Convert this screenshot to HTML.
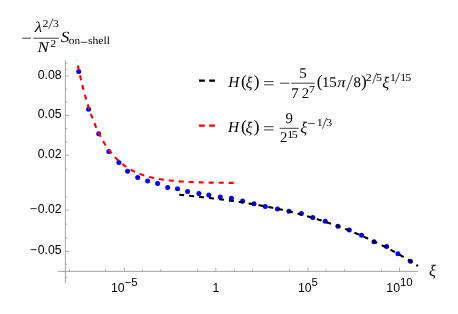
<!DOCTYPE html>
<html><head><meta charset="utf-8"><title>plot</title>
<style>html,body{margin:0;padding:0;background:#fff;}svg{display:block;}</style></head>
<body>
<svg width="458" height="314" viewBox="0 0 458 314">
<defs><mask id="m" maskUnits="userSpaceOnUse" x="0" y="0" width="458" height="314"><rect width="458" height="314" fill="#fff"/></mask></defs>
<rect width="458" height="314" fill="#fff"/>
<g mask="url(#m)">
<g stroke="#8c8c8c" stroke-width="0.8" fill="none">
<path d="M65.35 60.3 V283"/>
<path d="M58 271.35 H418"/>
<path d="M65.35 76.00 h3.5" stroke-width="0.7"/>
<path d="M65.35 115.30 h3.5" stroke-width="0.7"/>
<path d="M65.35 155.20 h3.5" stroke-width="0.7"/>
<path d="M65.35 210.10 h3.5" stroke-width="0.7"/>
<path d="M65.35 251.30 h3.5" stroke-width="0.7"/>
<path d="M65.35 63.30 h2" stroke-width="0.7"/>
<path d="M65.35 69.40 h2" stroke-width="0.7"/>
<path d="M65.35 89.10 h2" stroke-width="0.7"/>
<path d="M65.35 102.00 h2" stroke-width="0.7"/>
<path d="M65.35 128.50 h2" stroke-width="0.7"/>
<path d="M65.35 142.00 h2" stroke-width="0.7"/>
<path d="M65.35 169.20 h2" stroke-width="0.7"/>
<path d="M65.35 197.00 h2" stroke-width="0.7"/>
<path d="M65.35 224.20 h2" stroke-width="0.7"/>
<path d="M65.35 238.00 h2" stroke-width="0.7"/>
<path d="M65.35 264.20 h2" stroke-width="0.7"/>
<path d="M65.35 277.30 h2" stroke-width="0.7"/>
<path d="M124.30 271.35 v-3.6" stroke-width="0.7"/>
<path d="M215.80 271.35 v-3.6" stroke-width="0.7"/>
<path d="M307.90 271.35 v-3.6" stroke-width="0.7"/>
<path d="M399.50 271.35 v-3.6" stroke-width="0.7"/>
<path d="M69.40 271.35 v-2.2" stroke-width="0.7"/>
<path d="M105.50 271.35 v-2.2" stroke-width="0.7"/>
<path d="M142.40 271.35 v-2.2" stroke-width="0.7"/>
<path d="M160.70 271.35 v-2.2" stroke-width="0.7"/>
<path d="M197.60 271.35 v-2.2" stroke-width="0.7"/>
<path d="M234.40 271.35 v-2.2" stroke-width="0.7"/>
<path d="M252.70 271.35 v-2.2" stroke-width="0.7"/>
<path d="M289.50 271.35 v-2.2" stroke-width="0.7"/>
<path d="M326.00 271.35 v-2.2" stroke-width="0.7"/>
<path d="M344.40 271.35 v-2.2" stroke-width="0.7"/>
<path d="M381.40 271.35 v-2.2" stroke-width="0.7"/>
</g>
<g fill="#0000ff">
<circle cx="78.7" cy="71.5" r="2.5"/>
<circle cx="88.6" cy="109.3" r="2.5"/>
<circle cx="98.7" cy="133.8" r="2.5"/>
<circle cx="108.8" cy="151.4" r="2.5"/>
<circle cx="118.9" cy="162.5" r="2.5"/>
<circle cx="127.6" cy="171.2" r="2.5"/>
<circle cx="137.7" cy="177.4" r="2.5"/>
<circle cx="147.6" cy="181.0" r="2.5"/>
<circle cx="157.6" cy="183.6" r="2.5"/>
<circle cx="167.7" cy="187.5" r="2.5"/>
<circle cx="177.5" cy="188.8" r="2.5"/>
<circle cx="187.6" cy="191.5" r="2.5"/>
<circle cx="198.9" cy="193.6" r="2.5"/>
<circle cx="208.8" cy="194.9" r="2.5"/>
<circle cx="220.3" cy="197.1" r="2.5"/>
<circle cx="231.4" cy="198.2" r="2.5"/>
<circle cx="242.6" cy="201.0" r="2.5"/>
<circle cx="254.0" cy="203.8" r="2.5"/>
<circle cx="265.3" cy="206.4" r="2.5"/>
<circle cx="277.5" cy="209.0" r="2.5"/>
<circle cx="289.0" cy="211.2" r="2.5"/>
<circle cx="301.4" cy="213.6" r="2.5"/>
<circle cx="312.8" cy="217.4" r="2.5"/>
<circle cx="325.2" cy="221.2" r="2.5"/>
<circle cx="338.0" cy="226.2" r="2.5"/>
<circle cx="349.3" cy="230.1" r="2.5"/>
<circle cx="361.5" cy="235.2" r="2.5"/>
<circle cx="374.0" cy="241.7" r="2.5"/>
<circle cx="386.6" cy="246.4" r="2.5"/>
<circle cx="397.9" cy="253.8" r="2.5"/>
<circle cx="410.4" cy="261.2" r="2.5"/>
</g>
<path d="M76.85 60.35 L77.24 62.36 L77.64 64.31 L78.03 66.21 L78.42 68.08 L78.82 69.92 L79.21 71.72 L79.60 73.50 L80.00 75.26 L80.39 76.98 L80.78 78.67 L81.18 80.34 L81.57 81.98 L81.96 83.59 L82.36 85.18 L82.75 86.74 L83.15 88.27 L83.54 89.78 L83.93 91.27 L84.33 92.73 L84.72 94.16 L85.11 95.58 L85.51 96.97 L85.90 98.34 L86.29 99.68 L86.69 101.00 L87.08 102.31 L87.47 103.59 L87.87 104.85 L88.26 106.09 L88.65 107.31 L89.05 108.50 L89.44 109.68 L89.84 110.84 L90.23 111.99 L90.62 113.11 L91.02 114.21 L91.41 115.30 L91.80 116.38 L92.20 117.45 L92.59 118.50 L92.98 119.53 L93.38 120.55 L93.77 121.55 L94.16 122.53 L94.56 123.50 L94.95 124.45 L95.34 125.39 L95.74 126.31 L96.13 127.21 L96.53 128.10 L96.92 128.98 L97.31 129.85 L97.71 130.71 L98.10 131.55 L98.49 132.37 L98.89 133.19 L99.28 133.98 L99.67 134.77 L100.07 135.55 L100.46 136.31 L100.85 137.06 L101.25 137.79 L101.64 138.52 L102.03 139.23 L102.43 139.93 L102.82 140.62 L103.22 141.30 L103.61 141.97 L104.00 142.61 L104.40 143.25 L104.79 143.88 L105.18 144.49 L105.58 145.10 L105.97 145.69 L106.36 146.28 L106.76 146.85 L107.15 147.42 L107.54 147.98 L107.94 148.53 L108.33 149.07 L108.72 149.60 L109.12 150.12 L109.51 150.63 L109.91 151.14 L110.30 151.64 L110.69 152.12 L111.09 152.61 L111.48 153.08 L111.87 153.54 L112.27 154.00 L112.66 154.45 L113.05 154.90 L113.45 155.34 L113.84 155.79 L114.23 156.24 L114.63 156.68 L115.02 157.11 L115.41 157.54 L115.81 157.96 L116.20 158.37 L116.60 158.77 L116.99 159.17 L117.38 159.57 L117.78 159.95 L118.17 160.33 L118.56 160.70 L118.96 161.07 L119.35 161.43 L119.74 161.79 L120.14 162.14 L120.53 162.48 L120.92 162.82 L121.32 163.15 L121.71 163.48 L122.10 163.80 L122.50 164.12 L122.89 164.43 L123.29 164.73 L123.68 165.03 L124.07 165.33 L124.47 165.62 L124.86 165.91 L125.25 166.19 L125.65 166.47 L126.04 166.74 L126.43 167.01 L126.83 167.27 L127.22 167.53 L127.61 167.79 L128.01 168.04 L128.40 168.29 L128.79 168.53 L129.19 168.77 L129.58 169.01 L129.98 169.24 L130.37 169.46 L130.76 169.69 L131.16 169.91 L131.55 170.12 L131.94 170.33 L132.34 170.54 L132.73 170.75 L133.12 170.95 L133.52 171.15 L133.91 171.34 L134.30 171.53 L134.70 171.72 L135.09 171.91 L135.48 172.09 L135.88 172.27 L136.27 172.45 L136.67 172.62 L137.06 172.79 L137.45 172.96 L137.85 173.12 L138.24 173.29 L138.63 173.45 L139.03 173.61 L139.42 173.76 L139.81 173.91 L140.21 174.06 L140.60 174.21 L140.99 174.36 L141.39 174.50 L141.78 174.64 L142.17 174.78 L142.57 174.91 L142.96 175.05 L143.36 175.18 L143.75 175.31 L144.14 175.43 L144.54 175.56 L144.93 175.68 L145.32 175.80 L145.72 175.92 L146.11 176.04 L146.50 176.15 L146.90 176.27 L147.29 176.38 L147.68 176.49 L148.08 176.60 L148.47 176.70 L148.86 176.81 L149.26 176.91 L149.65 177.01 L150.05 177.11 L150.44 177.21 L150.83 177.30 L151.23 177.40 L151.62 177.49 L152.01 177.58 L152.41 177.67 L152.80 177.76 L153.19 177.85 L153.59 177.93 L153.98 178.02 L154.37 178.10 L154.77 178.18 L155.16 178.26 L155.55 178.34 L155.95 178.42 L156.34 178.50 L156.74 178.57 L157.13 178.65 L157.52 178.72 L157.92 178.79 L158.31 178.86 L158.70 178.93 L159.10 179.00 L159.49 179.06 L159.88 179.13 L160.28 179.19 L160.67 179.26 L161.06 179.32 L161.46 179.38 L161.85 179.44 L162.24 179.50 L162.64 179.56 L163.03 179.62 L163.42 179.68 L163.82 179.73 L164.21 179.79 L164.61 179.84 L165.00 179.89 L165.39 179.95 L165.79 180.00 L166.18 180.05 L166.57 180.10 L166.97 180.15 L167.36 180.20 L167.75 180.24 L168.15 180.29 L168.54 180.34 L168.93 180.38 L169.33 180.42 L169.72 180.47 L170.11 180.51 L170.51 180.55 L170.90 180.60 L171.30 180.64 L171.69 180.68 L172.08 180.72 L172.48 180.75 L172.87 180.79 L173.26 180.83 L173.66 180.87 L174.05 180.90 L174.44 180.94 L174.84 180.98 L175.23 181.01 L175.62 181.04 L176.02 181.08 L176.41 181.11 L176.80 181.14 L177.20 181.17 L177.59 181.21 L177.99 181.24 L178.38 181.27 L178.77 181.30 L179.17 181.33 L179.56 181.36 L179.95 181.38 L180.35 181.41 L180.74 181.44 L181.13 181.47 L181.53 181.49 L181.92 181.52 L182.31 181.55 L182.71 181.57 L183.10 181.60 L183.49 181.62 L183.89 181.64 L184.28 181.67 L184.68 181.69 L185.07 181.71 L185.46 181.74 L185.86 181.76 L186.25 181.78 L186.64 181.80 L187.04 181.82 L187.43 181.84 L187.82 181.87 L188.22 181.89 L188.61 181.91 L189.00 181.92 L189.40 181.94 L189.79 181.96 L190.18 181.98 L190.58 182.00 L190.97 182.02 L191.37 182.04 L191.76 182.05 L192.15 182.07 L192.55 182.09 L192.94 182.10 L193.33 182.12 L193.73 182.14 L194.12 182.15 L194.51 182.17 L194.91 182.18 L195.30 182.20 L195.69 182.21 L196.09 182.23 L196.48 182.24 L196.87 182.25 L197.27 182.27 L197.66 182.28 L198.06 182.30 L198.45 182.31 L198.84 182.32 L199.24 182.33 L199.63 182.35 L200.02 182.36 L200.42 182.37 L200.81 182.38 L201.20 182.39 L201.60 182.41 L201.99 182.42 L202.38 182.43 L202.78 182.44 L203.17 182.45 L203.56 182.46 L203.96 182.47 L204.35 182.48 L204.75 182.49 L205.14 182.50 L205.53 182.51 L205.93 182.52 L206.32 182.53 L206.71 182.54 L207.11 182.55 L207.50 182.56 L207.89 182.57 L208.29 182.58 L208.68 182.58 L209.07 182.59 L209.47 182.60 L209.86 182.61 L210.25 182.62 L210.65 182.62 L211.04 182.63 L211.44 182.64 L211.83 182.65 L212.22 182.65 L212.62 182.66 L213.01 182.67 L213.40 182.68 L213.80 182.68 L214.19 182.69 L214.58 182.70 L214.98 182.70 L215.37 182.71 L215.76 182.72 L216.16 182.72 L216.55 182.73 L216.94 182.73 L217.34 182.74 L217.73 182.75 L218.13 182.75 L218.52 182.76 L218.91 182.76 L219.31 182.77 L219.70 182.77 L220.09 182.78 L220.49 182.78 L220.88 182.79 L221.27 182.80 L221.67 182.80 L222.06 182.80 L222.45 182.81 L222.85 182.81 L223.24 182.82 L223.63 182.82 L224.03 182.83 L224.42 182.83 L224.82 182.84 L225.21 182.84 L225.60 182.85 L226.00 182.85 L226.39 182.85 L226.78 182.86 L227.18 182.86 L227.57 182.87 L227.96 182.87 L228.36 182.87 L228.75 182.88 L229.14 182.88 L229.54 182.88 L229.93 182.89 L230.32 182.89 L230.72 182.89 L231.11 182.90 L231.51 182.90 L231.90 182.90 L232.29 182.91 L232.69 182.91 L233.08 182.91 L233.47 182.92 L233.87 182.92 L234.26 182.92" fill="none" stroke="#ff0000" stroke-width="2.1" stroke-dasharray="5 5" stroke-dashoffset="4.7"/>
<path d="M179.18 194.70 L179.78 194.76 L180.37 194.81 L180.97 194.87 L181.57 194.93 L182.16 194.99 L182.76 195.05 L183.36 195.11 L183.95 195.17 L184.55 195.23 L185.15 195.29 L185.74 195.35 L186.34 195.41 L186.94 195.48 L187.53 195.54 L188.13 195.60 L188.73 195.66 L189.32 195.73 L189.92 195.79 L190.52 195.85 L191.11 195.92 L191.71 195.98 L192.31 196.04 L192.90 196.11 L193.50 196.17 L194.10 196.24 L194.69 196.30 L195.29 196.37 L195.89 196.44 L196.48 196.50 L197.08 196.57 L197.68 196.64 L198.27 196.71 L198.87 196.77 L199.47 196.84 L200.06 196.91 L200.66 196.98 L201.26 197.05 L201.85 197.11 L202.45 197.18 L203.05 197.25 L203.64 197.31 L204.24 197.38 L204.84 197.45 L205.43 197.51 L206.03 197.58 L206.63 197.65 L207.22 197.72 L207.82 197.79 L208.42 197.86 L209.02 197.93 L209.61 198.00 L210.21 198.07 L210.81 198.14 L211.40 198.21 L212.00 198.28 L212.60 198.35 L213.19 198.43 L213.79 198.50 L214.39 198.57 L214.98 198.65 L215.58 198.72 L216.18 198.79 L216.77 198.87 L217.37 198.94 L217.97 199.02 L218.56 199.09 L219.16 199.17 L219.76 199.25 L220.35 199.32 L220.95 199.40 L221.55 199.48 L222.14 199.56 L222.74 199.63 L223.34 199.71 L223.93 199.79 L224.53 199.87 L225.13 199.95 L225.72 200.03 L226.32 200.11 L226.92 200.19 L227.51 200.27 L228.11 200.36 L228.71 200.44 L229.30 200.52 L229.90 200.60 L230.50 200.69 L231.09 200.77 L231.69 200.86 L232.29 200.94 L232.88 201.03 L233.48 201.11 L234.08 201.20 L234.67 201.28 L235.27 201.37 L235.87 201.46 L236.46 201.55 L237.06 201.63 L237.66 201.72 L238.25 201.81 L238.85 201.90 L239.45 201.99 L240.04 202.08 L240.64 202.17 L241.24 202.27 L241.83 202.36 L242.43 202.45 L243.03 202.54 L243.62 202.64 L244.22 202.73 L244.82 202.82 L245.41 202.92 L246.01 203.01 L246.61 203.11 L247.20 203.20 L247.80 203.30 L248.40 203.40 L248.99 203.50 L249.59 203.59 L250.19 203.69 L250.78 203.79 L251.38 203.89 L251.98 203.99 L252.57 204.09 L253.17 204.19 L253.77 204.29 L254.36 204.40 L254.96 204.50 L255.56 204.60 L256.15 204.70 L256.75 204.81 L257.35 204.91 L257.94 205.02 L258.54 205.12 L259.14 205.23 L259.73 205.34 L260.33 205.44 L260.93 205.55 L261.52 205.66 L262.12 205.77 L262.72 205.88 L263.31 205.99 L263.91 206.10 L264.51 206.21 L265.10 206.32 L265.70 206.43 L266.30 206.55 L266.89 206.66 L267.49 206.77 L268.09 206.89 L268.69 207.00 L269.28 207.12 L269.88 207.23 L270.48 207.35 L271.07 207.47 L271.67 207.59 L272.27 207.70 L272.86 207.82 L273.46 207.94 L274.06 208.06 L274.65 208.18 L275.25 208.31 L275.85 208.43 L276.44 208.55 L277.04 208.67 L277.64 208.80 L278.23 208.92 L278.83 209.05 L279.43 209.17 L280.02 209.30 L280.62 209.43 L281.22 209.55 L281.81 209.68 L282.41 209.81 L283.01 209.94 L283.60 210.07 L284.20 210.21 L284.80 210.35 L285.39 210.49 L285.99 210.64 L286.59 210.78 L287.18 210.93 L287.78 211.07 L288.38 211.22 L288.97 211.36 L289.57 211.51 L290.17 211.66 L290.76 211.81 L291.36 211.96 L291.96 212.11 L292.55 212.26 L293.15 212.41 L293.75 212.56 L294.34 212.72 L294.94 212.87 L295.54 213.02 L296.13 213.18 L296.73 213.34 L297.33 213.49 L297.92 213.65 L298.52 213.81 L299.12 213.97 L299.71 214.13 L300.31 214.29 L300.91 214.45 L301.50 214.62 L302.10 214.78 L302.70 214.95 L303.29 215.11 L303.89 215.28 L304.49 215.44 L305.08 215.61 L305.68 215.78 L306.28 215.95 L306.87 216.12 L307.47 216.29 L308.07 216.46 L308.66 216.64 L309.26 216.81 L309.86 216.98 L310.45 217.16 L311.05 217.34 L311.65 217.51 L312.24 217.69 L312.84 217.87 L313.44 218.05 L314.03 218.23 L314.63 218.41 L315.23 218.60 L315.82 218.78 L316.42 218.96 L317.02 219.15 L317.61 219.33 L318.21 219.52 L318.81 219.71 L319.40 219.90 L320.00 220.09 L320.60 220.28 L321.19 220.47 L321.79 220.67 L322.39 220.86 L322.98 221.05 L323.58 221.25 L324.18 221.45 L324.77 221.64 L325.37 221.84 L325.97 222.04 L326.56 222.24 L327.16 222.45 L327.76 222.65 L328.36 222.85 L328.95 223.06 L329.55 223.26 L330.15 223.47 L330.74 223.68 L331.34 223.89 L331.94 224.10 L332.53 224.31 L333.13 224.51 L333.73 224.72 L334.32 224.93 L334.92 225.14 L335.52 225.35 L336.11 225.57 L336.71 225.78 L337.31 226.00 L337.90 226.21 L338.50 226.43 L339.10 226.65 L339.69 226.87 L340.29 227.09 L340.89 227.31 L341.48 227.53 L342.08 227.75 L342.68 227.98 L343.27 228.20 L343.87 228.43 L344.47 228.66 L345.06 228.89 L345.66 229.12 L346.26 229.35 L346.85 229.58 L347.45 229.82 L348.05 230.05 L348.64 230.29 L349.24 230.53 L349.84 230.77 L350.43 231.01 L351.03 231.25 L351.63 231.49 L352.22 231.73 L352.82 231.98 L353.42 232.22 L354.01 232.47 L354.61 232.72 L355.21 232.97 L355.80 233.22 L356.40 233.47 L357.00 233.73 L357.59 233.98 L358.19 234.24 L358.79 234.49 L359.38 234.75 L359.98 235.01 L360.58 235.27 L361.17 235.54 L361.77 235.80 L362.37 236.06 L362.96 236.33 L363.56 236.60 L364.16 236.87 L364.75 237.14 L365.35 237.41 L365.95 237.68 L366.54 237.96 L367.14 238.22 L367.74 238.49 L368.33 238.76 L368.93 239.03 L369.53 239.30 L370.12 239.57 L370.72 239.85 L371.32 240.12 L371.91 240.40 L372.51 240.68 L373.11 240.96 L373.70 241.24 L374.30 241.52 L374.90 241.80 L375.49 242.09 L376.09 242.38 L376.69 242.66 L377.28 242.95 L377.88 243.24 L378.48 243.54 L379.07 243.83 L379.67 244.13 L380.27 244.42 L380.86 244.72 L381.46 245.02 L382.06 245.32 L382.65 245.62 L383.25 245.93 L383.85 246.23 L384.44 246.54 L385.04 246.85 L385.64 247.16 L386.23 247.47 L386.83 247.79 L387.43 248.10 L388.02 248.42 L388.62 248.74 L389.22 249.06 L389.82 249.38 L390.41 249.70 L391.01 250.02 L391.61 250.35 L392.20 250.68 L392.80 251.01 L393.40 251.34 L393.99 251.66 L394.59 251.98 L395.19 252.31 L395.78 252.64 L396.38 252.97 L396.98 253.30 L397.57 253.63 L398.17 253.97 L398.77 254.30 L399.36 254.64 L399.96 254.98 L400.56 255.32 L401.15 255.66 L401.75 256.01 L402.35 256.35 L402.94 256.70 L403.54 257.05 L404.14 257.40 L404.73 257.75 L405.33 258.11 L405.93 258.47 L406.52 258.82 L407.12 259.18 L407.72 259.55 L408.31 259.91 L408.91 260.28 L409.51 260.64 L410.10 261.01 L410.70 261.38 L411.30 261.76 L411.89 262.13 L412.49 262.51 L413.09 262.89 L413.68 263.27 L414.28 263.65 L414.88 264.03 L415.47 264.42 L416.07 264.82 L416.67 265.21 L417.26 265.61 L417.86 266.01" fill="none" stroke="#000" stroke-width="2.1" stroke-dasharray="5 5"/>
<path d="M199 80.6 H215" fill="none" stroke="#000" stroke-width="2.1" stroke-dasharray="5.8 4.4"/>
<path d="M199 125.6 H215" fill="none" stroke="#ff0000" stroke-width="2.1" stroke-dasharray="5.8 4.4"/>
<g font-family="Liberation Sans, sans-serif" font-size="12.3" fill="#000">
<text x="61.7" y="79.1" text-anchor="end">0.08</text>
<text x="61.7" y="118.4" text-anchor="end">0.05</text>
<text x="61.7" y="158.3" text-anchor="end">0.02</text>
<text x="61.7" y="213.2" text-anchor="end">−<tspan dx="0.8">0.02</tspan></text>
<text x="61.7" y="254.4" text-anchor="end">−<tspan dx="0.8">0.05</tspan></text>
<text x="215.8" y="291.6" text-anchor="middle">1</text>
<text x="124.3" y="291.6" text-anchor="middle">10<tspan dy="-5.5" font-size="11.4">−5</tspan></text>
<text x="307.9" y="291.6" text-anchor="middle">10<tspan dy="-5.5" font-size="11.4">5</tspan></text>
<text x="399.5" y="291.6" text-anchor="middle">10<tspan dy="-5.5" font-size="11.4">10</tspan></text>
</g>
<g fill="#000" font-family="Liberation Serif, serif" text-rendering="geometricPrecision">
<text x="429.11" y="275.60" font-size="16.2" font-style="italic">ξ</text>
<text transform="translate(34.81 31.80) scale(1.15 1)" font-size="14.8" font-style="italic">λ</text>
<text transform="translate(42.43 26.50) scale(1.12 1)" font-size="10.6">2</text>
<text transform="translate(52.93 26.50) scale(1.12 1)" font-size="10.6">3</text>
<text transform="translate(37.47 52.00) scale(1.15 1)" font-size="14.8" font-style="italic">N</text>
<text transform="translate(50.33 47.00) scale(1.12 1)" font-size="10.6">2</text>
<text transform="translate(60.83 42.00) scale(1.1 1)" font-size="15.6" font-style="italic">S</text>
<text transform="translate(68.86 44.30) scale(1.02 1)" font-size="11">on</text>
<text transform="translate(87.93 44.30) scale(1.06 1)" font-size="11">shell</text>
<text x="228.21" y="87.00" font-size="15.3" font-style="italic">H</text>
<text x="241.11" y="86.65" font-size="17.2">(</text>
<text x="245.61" y="87.50" font-size="16.2" font-style="italic">ξ</text>
<text x="253.78" y="86.65" font-size="17.2">)</text>
<text x="299.26" y="77.50" font-size="14.8">5</text>
<text x="291.31" y="97.80" font-size="14.8">7</text>
<text x="301.71" y="97.80" font-size="14.8">2</text>
<text transform="translate(308.99 92.60) scale(1.12 1)" font-size="10.6">7</text>
<text x="316.71" y="86.65" font-size="17.2">(</text>
<text x="322.12" y="87.00" font-size="14.8">1</text>
<text x="329.26" y="87.00" font-size="14.8">5</text>
<text transform="translate(337.20 87.00) scale(1.18 1)" font-size="14.4" font-style="italic">π</text>
<text x="353.56" y="87.00" font-size="14.8">8</text>
<text x="361.08" y="86.65" font-size="17.2">)</text>
<text transform="translate(365.73 81.00) scale(1.12 1)" font-size="10.6">2</text>
<text transform="translate(376.01 81.00) scale(1.12 1)" font-size="10.6">5</text>
<text x="382.31" y="87.50" font-size="16.2" font-style="italic">ξ</text>
<text transform="translate(390.05 81.00) scale(1.12 1)" font-size="10.6">1</text>
<text transform="translate(400.35 81.00) scale(1.12 1)" font-size="10.6">1</text>
<text transform="translate(405.21 81.00) scale(1.12 1)" font-size="10.6">5</text>
<text x="228.11" y="132.10" font-size="15.3" font-style="italic">H</text>
<text x="241.11" y="131.75" font-size="17.2">(</text>
<text x="245.61" y="132.60" font-size="16.2" font-style="italic">ξ</text>
<text x="253.78" y="131.75" font-size="17.2">)</text>
<text x="285.46" y="122.80" font-size="14.8">9</text>
<text x="280.01" y="142.40" font-size="14.8">2</text>
<text transform="translate(287.25 137.60) scale(1.12 1)" font-size="10.6">1</text>
<text transform="translate(291.81 137.60) scale(1.12 1)" font-size="10.6">5</text>
<text x="300.31" y="132.60" font-size="16.2" font-style="italic">ξ</text>
<text transform="translate(316.85 126.10) scale(1.12 1)" font-size="10.6">1</text>
<text transform="translate(326.33 126.10) scale(1.12 1)" font-size="10.6">3</text>
</g>
<g stroke="#000" fill="none">
<path d="M22.20 38.20 L31.00 38.20" stroke-width="0.75"/>
<path d="M33.30 38.20 L58.90 38.20" stroke-width="0.75"/>
<path d="M48.70 28.90 L53.00 18.40" stroke-width="0.7"/>
<path d="M80.60 42.30 L87.30 42.30" stroke-width="0.7"/>
<path d="M264.00 81.60 L273.60 81.60" stroke-width="0.75"/>
<path d="M264.00 84.80 L273.60 84.80" stroke-width="0.75"/>
<path d="M280.00 83.20 L289.30 83.20" stroke-width="0.75"/>
<path d="M291.40 83.20 L314.70 83.20" stroke-width="0.75"/>
<path d="M346.60 90.80 L352.60 75.40" stroke-width="0.75"/>
<path d="M372.60 83.60 L376.80 72.80" stroke-width="0.7"/>
<path d="M395.20 83.60 L399.60 72.80" stroke-width="0.7"/>
<path d="M264.00 126.70 L273.60 126.70" stroke-width="0.75"/>
<path d="M264.00 129.90 L273.60 129.90" stroke-width="0.75"/>
<path d="M279.60 128.30 L298.80 128.30" stroke-width="0.75"/>
<path d="M308.20 123.60 L314.80 123.60" stroke-width="0.7"/>
<path d="M322.50 128.70 L326.70 117.90" stroke-width="0.7"/>
</g>
</g>
</svg>
</body></html>
